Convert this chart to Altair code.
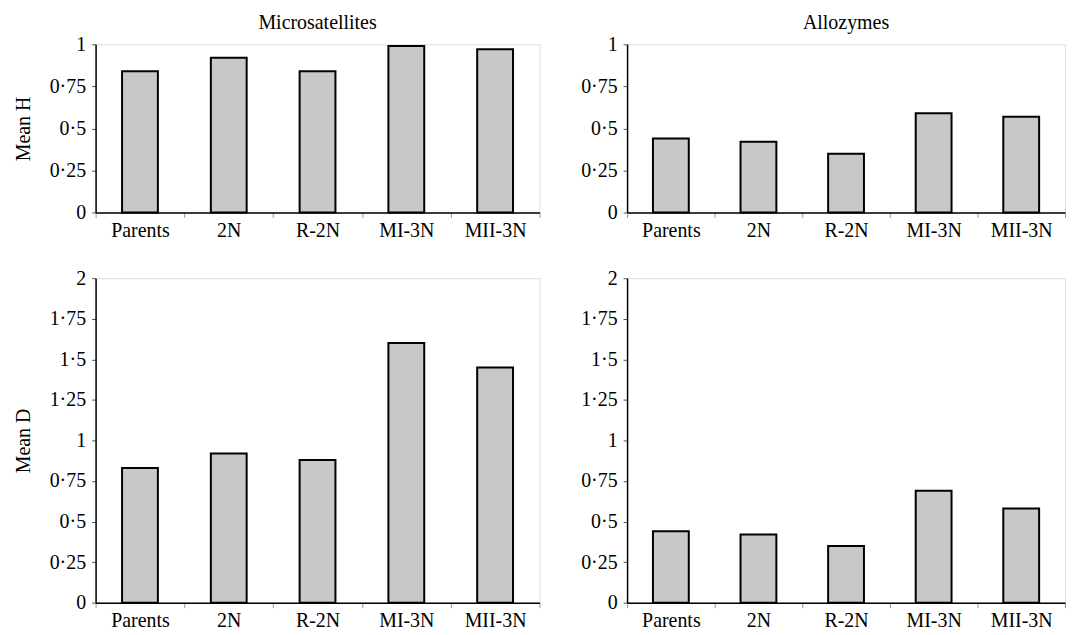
import altair as alt
import pandas as pd

categories = ["Parents", "2N", "R-2N", "MI-3N", "MII-3N"]
micro_H = [0.84, 0.92, 0.84, 0.99, 0.97]
allo_H = [0.44, 0.42, 0.35, 0.59, 0.57]
micro_D = [0.83, 0.92, 0.88, 1.60, 1.45]
allo_D = [0.44, 0.42, 0.35, 0.69, 0.58]

ticks_H = [0, 0.25, 0.5, 0.75, 1]
ticks_D = [0, 0.25, 0.5, 0.75, 1, 1.25, 1.5, 1.75, 2]

FONT = "Liberation Serif"


def panel(vals, ymax, ticks, h, title=None, ytitle=None, w=446):
    df = pd.DataFrame({"cat": categories, "v": vals})
    yaxis_kw = dict(
        values=ticks,
        labelExpr="replace(toString(datum.value), '.', '·')",
        grid=False,
        tickSize=4,
        labelPadding=6,
        labelFontSize=20,
        titleFontSize=20,
        titleFontWeight="normal",
        titlePadding=16,
        labelColor="black",
        titleColor="black",
        domainColor="black",
        domainWidth=1.5,
        tickColor="#555555",
        labelFont=FONT,
        titleFont=FONT,
    )
    yaxis_kw["title"] = ytitle
    c = alt.Chart(df).mark_bar(
        fill="#c8c8c8", stroke="black", strokeWidth=2, size=36
    ).encode(
        x=alt.X(
            "cat:N",
            sort=categories,
            scale=alt.Scale(paddingInner=0, paddingOuter=0),
            axis=alt.Axis(
                title=None,
                labelAngle=0,
                tickBand="extent",
                tickSize=5,
                labelPadding=3,
                labelFontSize=20,
                labelFont=FONT,
                labelColor="black",
                domainColor="black",
                domainWidth=1.5,
                tickColor="#999999",
                grid=False,
            ),
        ),
        y=alt.Y(
            "v:Q",
            scale=alt.Scale(domain=[0, ymax], nice=False),
            axis=alt.Axis(**yaxis_kw),
        ),
    )
    props = dict(width=w, height=h)
    if title:
        props["title"] = alt.Title(
            title, font=FONT, fontSize=20, fontWeight="normal", color="black", offset=1
        )
    return c.properties(**props)


top = alt.hconcat(
    panel(micro_H, 1, ticks_H, 169, title="Microsatellites", ytitle="Mean H"),
    panel(allo_H, 1, ticks_H, 169, title="Allozymes", w=440),
    spacing=39,
)
bottom = alt.hconcat(
    panel(micro_D, 2, ticks_D, 326, ytitle="Mean D"),
    panel(allo_D, 2, ticks_D, 326, w=440),
    spacing=39,
)

chart = alt.vconcat(top, bottom, spacing=26).configure_view(
    stroke="#222222", strokeWidth=1.5
).configure(font=FONT).properties(padding={"left": 4, "top": 3, "right": 0, "bottom": 0})

chart.save("out.html", embed_options={"renderer": "svg", "actions": False})
